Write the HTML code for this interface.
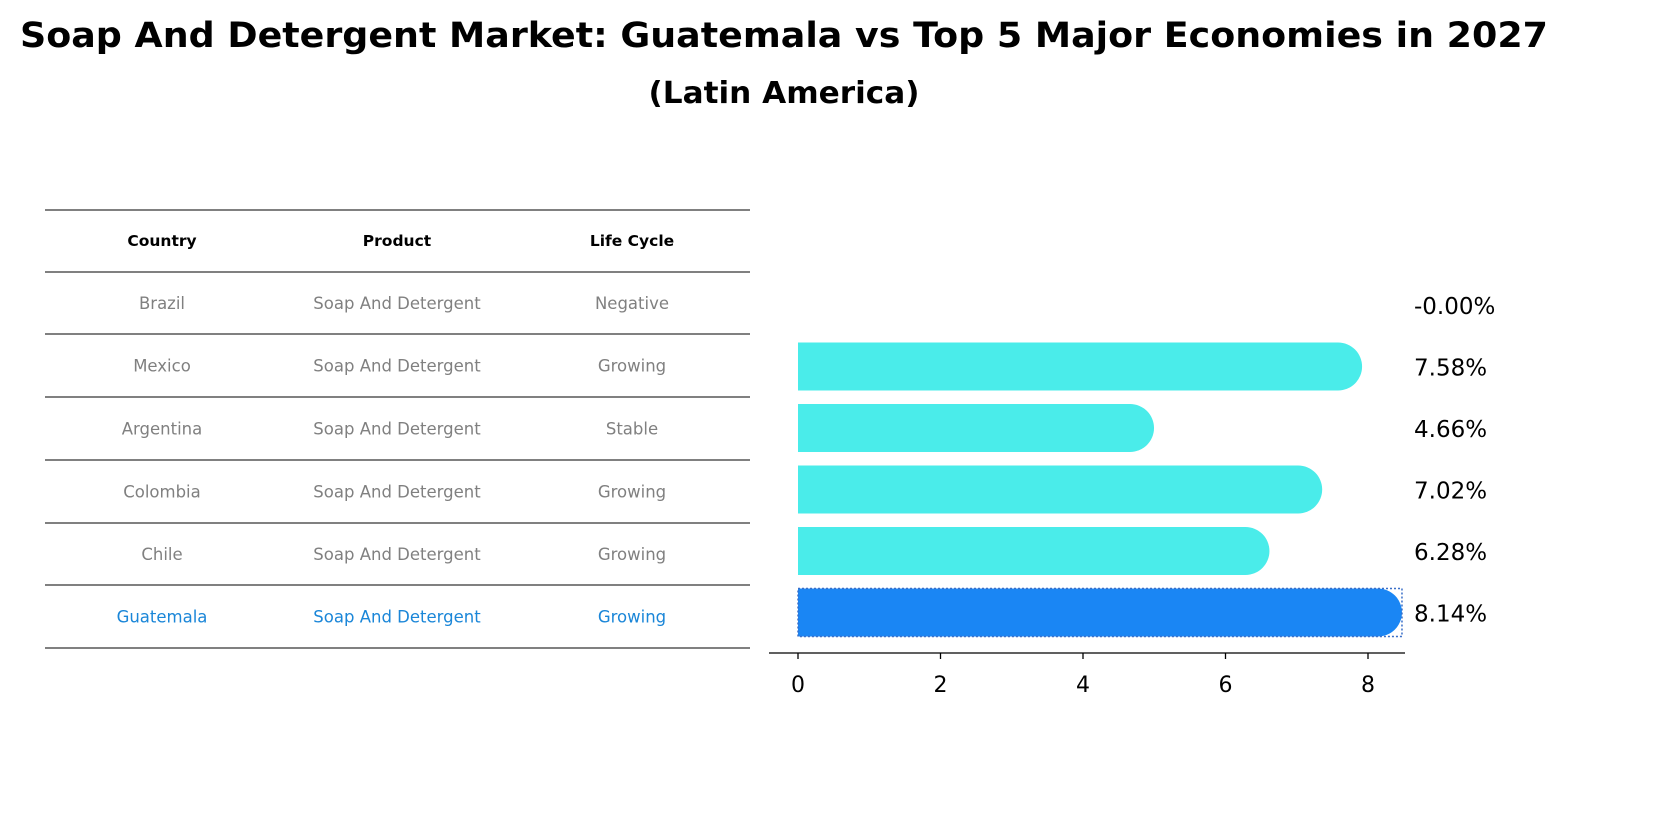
<!DOCTYPE html>
<html><head><meta charset="utf-8"><style>
body{margin:0;background:#fff;font-family:"Liberation Sans","DejaVu Sans",sans-serif;}
</style></head><body>
<svg width="1669" height="823" xmlns="http://www.w3.org/2000/svg" style="font-family:'DejaVu Sans','Liberation Sans',sans-serif">
<text x="784" y="47" text-anchor="middle" font-size="35" font-weight="bold" textLength="1528" lengthAdjust="spacingAndGlyphs">Soap And Detergent Market: Guatemala vs Top 5 Major Economies in 2027</text>
<text x="784" y="103" text-anchor="middle" font-size="30" font-weight="bold" textLength="271" lengthAdjust="spacingAndGlyphs">(Latin America)</text>
<g id="table"></g>
<g id="bars"></g>
</svg>
<script>
const countries=["Brazil","Mexico","Argentina","Colombia","Chile","Guatemala"];
const products=["Soap And Detergent","Soap And Detergent","Soap And Detergent","Soap And Detergent","Soap And Detergent","Soap And Detergent"];
const lifeCycles=["Negative","Growing","Stable","Growing","Growing","Growing"];
const growth=[-0.00,7.58,4.66,7.02,6.28,8.14];
const valueLabels=["-0.00%","7.58%","4.66%","7.02%","6.28%","8.14%"];
const ticks=[0,2,4,6,8];
const NS="http://www.w3.org/2000/svg";
function mk(t,a,p){const e=document.createElementNS(NS,t);for(const k in a)e.setAttribute(k,a[k]);p.appendChild(e);return e;}
const tbl=document.getElementById('table');
const lineYs=[210,272,334,397,460,523,585,648];
lineYs.forEach((y,i)=>{const l=mk('line',{x1:45,x2:750,y1:y,y2:y,stroke:'#000','stroke-width':1},tbl);

});
const colX=[162,397,632];
["Country","Product","Life Cycle"].forEach((h,i)=>{const t=mk('text',{x:colX[i],y:246,'text-anchor':'middle','font-size':15.5,'font-weight':'bold'},tbl);t.textContent=h;

});
countries.forEach((c,r)=>{const y=(lineYs[r+1]+lineYs[r+2])/2+6;const col=r===countries.length-1?'#1a86d8':'#808080';
[c,products[r],lifeCycles[r]].forEach((v,i)=>{const t=mk('text',{x:colX[i],y:y,'text-anchor':'middle','font-size':16.5,fill:col},tbl);t.textContent=v;

});});
const g=document.getElementById('bars');
const x0=798,ppu=71.25;const xs=v=>x0+v*ppu;
const rowY=i=>305+i*61.5;const h=48;
growth.forEach((v,i)=>{const cy=rowY(i);const last=i===growth.length-1;const xe=xs(v);
if(v>0){const r=h/2;const d=`M${x0},${cy-r} L${xe},${cy-r} A${r},${r} 0 0 1 ${xe},${cy+r} L${x0},${cy+r} Z`;
const p=mk('path',{d:d,fill:last?'#1a86f4':'#4aecea'},g);


if(last){const b=mk('rect',{x:x0,y:cy-r,width:xe-x0+r,height:h,fill:'none',stroke:'#3a6fc8','stroke-width':1.5,'stroke-dasharray':'2,2'},g);

}}
const t=mk('text',{x:1414,y:cy+9,'font-size':23},g);t.textContent=valueLabels[i];

});
const ax=mk('line',{x1:769,x2:1405,y1:653,y2:653,stroke:'#000','stroke-width':1.3},g);


ticks.forEach(v=>{const tk=mk('line',{x1:xs(v),x2:xs(v),y1:653,y2:659,stroke:'#000','stroke-width':1.3},g);


const t=mk('text',{x:xs(v),y:692,'text-anchor':'middle','font-size':22},g);t.textContent=v;

});
</script>
</body></html>
